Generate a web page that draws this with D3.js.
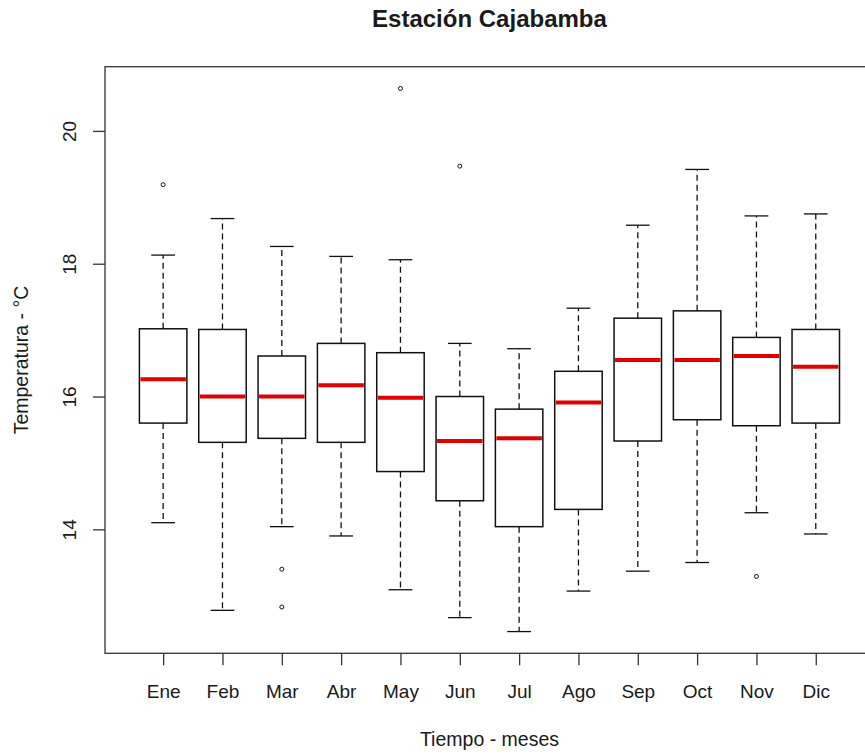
<!DOCTYPE html>
<html>
<head>
<meta charset="utf-8">
<script src="https://cdn.jsdelivr.net/npm/d3@7"></script>
<style>
  html, body { margin: 0; padding: 0; background: #fff; overflow: hidden; }
  text { font-family: "Liberation Sans", Arial, sans-serif; fill: #1a1a1a; }
</style>
</head>
<body>
<svg id="chart" width="865" height="755"></svg>
<script>
// Boxplot stats per month
const months = ["Ene", "Feb", "Mar", "Abr", "May", "Jun", "Jul", "Ago", "Sep", "Oct", "Nov", "Dic"];
const lowerWhisker = [14.10, 12.78, 14.04, 13.90, 13.09, 12.67, 12.46, 13.07, 13.37, 13.50, 14.25, 13.93];
const q1 = [15.60, 15.31, 15.37, 15.31, 14.87, 14.43, 14.04, 14.30, 15.33, 15.65, 15.56, 15.60];
const medians = [16.26, 16.00, 16.00, 16.17, 15.98, 15.33, 15.37, 15.91, 16.55, 16.55, 16.61, 16.45];
const q3 = [17.02, 17.01, 16.61, 16.80, 16.66, 16.00, 15.81, 16.38, 17.18, 17.29, 16.89, 17.01];
const upperWhisker = [18.13, 18.68, 18.26, 18.11, 18.06, 16.80, 16.72, 17.33, 18.58, 19.42, 18.72, 18.75];
// outliers: [month index, value]
const outliers = [[0, 19.19], [2, 13.40], [2, 12.83], [4, 20.64], [5, 19.47], [10, 13.29]];
const yTicks = [14, 16, 18, 20];

const svg = d3.select("#chart");
const margin = {top: 66.7, left: 105, bottom: 101.7};
const height = 755;
const plotBottom = height - margin.bottom;

// R style axis limits: 4% extension of the data range
const n = months.length;
const xs = d3.scaleLinear()
    .domain([0.5 - 0.04 * n, n + 0.5 + 0.04 * n])
    .range([margin.left, margin.left + 59.33 * n * 1.08]);
const allVals = lowerWhisker.concat(upperWhisker, outliers.map(d => d[1]));
const [ymin, ymax] = d3.extent(allVals);
const ext = (ymax - ymin) * 0.04;
const y = d3.scaleLinear()
    .domain([ymin - ext, ymax + ext])
    .range([plotBottom, margin.top]);

const step = xs(2) - xs(1);
const boxW = step * 0.8;
const capW = boxW / 2;

const data = months.map((m, i) => ({
    m, i: i + 1,
    lo: lowerWhisker[i], q1: q1[i], med: medians[i], q3: q3[i], hi: upperWhisker[i]
}));

const g = svg.append("g");

// whiskers (dashed)
g.selectAll(".wlo").data(data).enter().append("line")
    .attr("x1", d => xs(d.i)).attr("x2", d => xs(d.i))
    .attr("y1", d => y(d.q1)).attr("y2", d => y(d.lo))
    .attr("stroke", "#111").attr("stroke-width", 1.3)
    .attr("stroke-dasharray", "6,4");
g.selectAll(".whi").data(data).enter().append("line")
    .attr("x1", d => xs(d.i)).attr("x2", d => xs(d.i))
    .attr("y1", d => y(d.q3)).attr("y2", d => y(d.hi))
    .attr("stroke", "#111").attr("stroke-width", 1.3)
    .attr("stroke-dasharray", "6,4");

// staples
["lo", "hi"].forEach(k => {
    g.selectAll(".cap-" + k).data(data).enter().append("line")
        .attr("x1", d => xs(d.i) - capW / 2).attr("x2", d => xs(d.i) + capW / 2)
        .attr("y1", d => y(d[k])).attr("y2", d => y(d[k]))
        .attr("stroke", "#111").attr("stroke-width", 1.3);
});

// boxes
g.selectAll(".box").data(data).enter().append("rect")
    .attr("x", d => xs(d.i) - boxW / 2)
    .attr("width", boxW)
    .attr("y", d => y(d.q3))
    .attr("height", d => y(d.q1) - y(d.q3))
    .attr("fill", "none")
    .attr("stroke", "#111").attr("stroke-width", 1.5);

// medians in red
g.selectAll(".med").data(data).enter().append("line")
    .attr("x1", d => xs(d.i) - boxW / 2 + 1).attr("x2", d => xs(d.i) + boxW / 2 - 1)
    .attr("y1", d => y(d.med)).attr("y2", d => y(d.med))
    .attr("stroke", "#e00000").attr("stroke-width", 4);

// outliers
g.selectAll(".out").data(outliers).enter().append("circle")
    .attr("cx", d => xs(d[0] + 1))
    .attr("cy", d => y(d[1]))
    .attr("r", 2)
    .attr("fill", "none")
    .attr("stroke", "#111").attr("stroke-width", 1);

// plot frame
svg.append("rect")
    .attr("x", xs.range()[0]).attr("y", margin.top)
    .attr("width", xs.range()[1] - xs.range()[0])
    .attr("height", plotBottom - margin.top)
    .attr("fill", "none").attr("stroke", "#333").attr("stroke-width", 1.3);

// axes
const xAxis = svg.append("g")
    .attr("transform", `translate(0,${plotBottom})`)
    .call(d3.axisBottom(xs).tickValues(d3.range(1, n + 1))
        .tickFormat(d => months[d - 1]).tickSize(12).tickPadding(18));
xAxis.select(".domain").remove();
xAxis.selectAll("line").attr("stroke", "#333").attr("stroke-width", 1.3);
xAxis.selectAll("text").attr("font-size", 19).attr("font-family", null).attr("fill", null)
    .attr("dy", null).attr("y", 45);

const yAxis = svg.append("g")
    .attr("transform", `translate(${margin.left},0)`)
    .call(d3.axisLeft(y).tickValues(yTicks).tickSize(12));
yAxis.select(".domain").remove();
yAxis.selectAll("line").attr("stroke", "#333").attr("stroke-width", 1.3);
yAxis.selectAll("text")
    .attr("font-size", 19).attr("font-family", null).attr("fill", null)
    .attr("x", null).attr("dy", null)
    .attr("text-anchor", "middle")
    .attr("transform", "translate(-29,0) rotate(-90)");

// titles
svg.append("text")
    .attr("x", (xs.range()[0] + xs.range()[1]) / 2).attr("y", 27)
    .attr("text-anchor", "middle")
    .attr("font-size", 24).attr("font-weight", "bold")
    .text("Estación Cajabamba");

svg.append("text")
    .attr("x", (xs.range()[0] + xs.range()[1]) / 2).attr("y", 746)
    .attr("text-anchor", "middle")
    .attr("font-size", 19.5)
    .text("Tiempo - meses");

svg.append("text")
    .attr("transform", `translate(28,${(margin.top + plotBottom) / 2}) rotate(-90)`)
    .attr("text-anchor", "middle")
    .attr("font-size", 19.5)
    .text("Temperatura - °C");
</script>
</body>
</html>
